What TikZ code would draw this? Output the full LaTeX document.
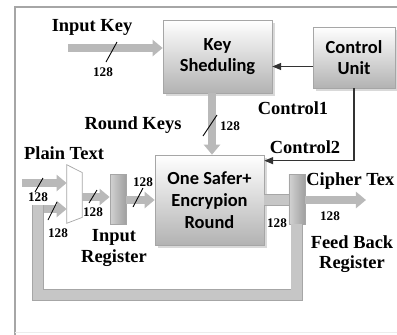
\documentclass[tikz,border=0pt]{standalone}
\usepackage{fontspec}
\setmainfont{Liberation Serif}
\newfontfamily\boxfont{Carlito}
\usetikzlibrary{arrows.meta, shadows, calc}

\newcommand{\px}{0.02cm}

\tikzset{
  blk/.style={draw=gray!70, top color=white, bottom color=gray!60, inner sep=0pt, align=center,
    font=\boxfont\bfseries\fontsize{10.5}{11.5}\selectfont,
    drop shadow={shadow xshift=1.5pt, shadow yshift=-1.5pt, opacity=0.3}},
  reg/.style={draw=gray!70, left color=gray!35, right color=gray!75, inner sep=0pt,
    minimum width=0.32cm, minimum height=1cm},
  bus/.style={line width=0.16cm, draw=gray!55, -{Triangle[length=0.2cm, width=0.32cm]}},
  fbus/.style={draw=gray!70, line width=0.5pt, double=gray!45, double distance=0.22cm},
  ctl/.style={draw=black!80, line width=0.6pt, -{Triangle[length=5pt, width=4pt]}},
  bwmark/.style={black, line width=0.5pt},
  lbl/.style={font=\bfseries\fontsize{10.5}{11.5}\selectfont, inner sep=0pt, align=center},
  wid/.style={font=\bfseries\fontsize{7.5}{8}\selectfont, inner sep=0pt},
}

\begin{document}
\begin{tikzpicture}[x=0.02cm, y=-0.02cm]
  \useasboundingbox (0,0) rectangle (397,335);

  % frame
  \draw[gray!70, line width=0.6pt] (15,335) -- (15,7) -- (397,7);
  \draw[gray!15] (15,332) -- (397,332);

  % blocks
  \node[blk, minimum width=2.18cm, minimum height=1.46cm] (keysch) at (217.5,56.5) {Key\\Sheduling};
  \node[blk, minimum width=1.64cm, minimum height=1.22cm] (ctrl) at (354,57.5) {Control\\Unit};
  \node[blk, minimum width=2.18cm, minimum height=1.8cm, font=\boxfont\bfseries\fontsize{10.5}{12.5}\selectfont]
    (round) at (209.5,200) {One Safer+\\Encrypion\\Round};
  \node[reg] (inreg) at (118,199) {};
  \node[reg] (fbreg) at (297,199) {};

  % multiplexer
  \node[minimum width=0.3cm, minimum height=1.16cm, inner sep=0pt] (mux) at (74.5,194) {};
  \draw[gray!70, fill=white] (mux.north west) -- ([yshift=-8*\px]mux.north east)
    -- ([yshift=6*\px]mux.south east) -- (mux.south west) -- cycle;

  % free ends
  \coordinate (keyin) at (68,48);
  \coordinate (ptin) at (22,183);
  \coordinate (fbtop) at (38,205);
  \coordinate (fbin) at (44,209);
  \coordinate (ctout) at (366,200);

  % buses
  \draw[bus] (keyin) -- (keyin -| keysch.west);
  \draw[bus] ([xshift=-5.5*\px]keysch.south) -- ([xshift=-5.5*\px]keysch.south |- round.north);
  \draw[bus] (ptin) -- (ptin -| mux.west);
  \draw[bus] (fbin) -- (fbin -| mux.west);
  \draw[bus] ([yshift=-3*\px]mux.east) -- ([yshift=-3*\px]mux.east -| inreg.west);
  \draw[bus] (inreg.east |- round.west) -- (round.west);
  \draw[fbus] (round.east) -- (round.east -| fbreg.west);
  \draw[bus] (round.east -| fbreg.east) -- (ctout);
  \draw[fbus] (fbreg.south) -- (fbreg.south |- 0,295) -| (fbtop);

  % control lines
  \draw[ctl] ([yshift=-9*\px]ctrl.west) -- ([yshift=-9*\px]ctrl.west -| keysch.east);
  \draw[ctl] (ctrl.south) |- ([yshift=-6*\px]round.north east);

  % bus width marks
  \draw[bwmark] (106,62) -- (117,42);
  \draw[bwmark] (203,136) -- (217,115);
  \draw[bwmark] (35,192) -- (43,178);
  \draw[bwmark] (48,220) -- (57,202);
  \draw[bwmark] (89,203) -- (97,190);
  \draw[bwmark] (133,207) -- (143,188);

  \node[wid] (w1) at (103,72) {128};
  \node[wid] (w2) at (230,126) {128};
  \node[wid] (w3) at (38,197) {128};
  \node[wid] (w4) at (58,233) {128};
  \node[wid] (w5) at (93,212) {128};
  \node[wid] (w6) at (143,182) {128};
  \node[wid] (w7) at (277,223) {128};
  \node[wid] (w8) at (330,216) {128};

  % labels
  \node[lbl] (linkey) at (92,27) {Input Key};
  \node[lbl] (lrkeys) at (133,125) {Round Keys};
  \node[lbl] (lplain) at (64,153) {Plain Text};
  \node[lbl] (lc1) at (293,108) {Control1};
  \node[lbl] (lc2) at (305,147) {Control2};
  \node[lbl] (linreg) at (114,248) {Input\\Register};
  \node[lbl] (lfbreg) at (352,254) {Feed Back\\Register};
  \node[lbl, anchor=west] (lcipher) at (306,181) {Cipher Tex};
\end{tikzpicture}
\end{document}
